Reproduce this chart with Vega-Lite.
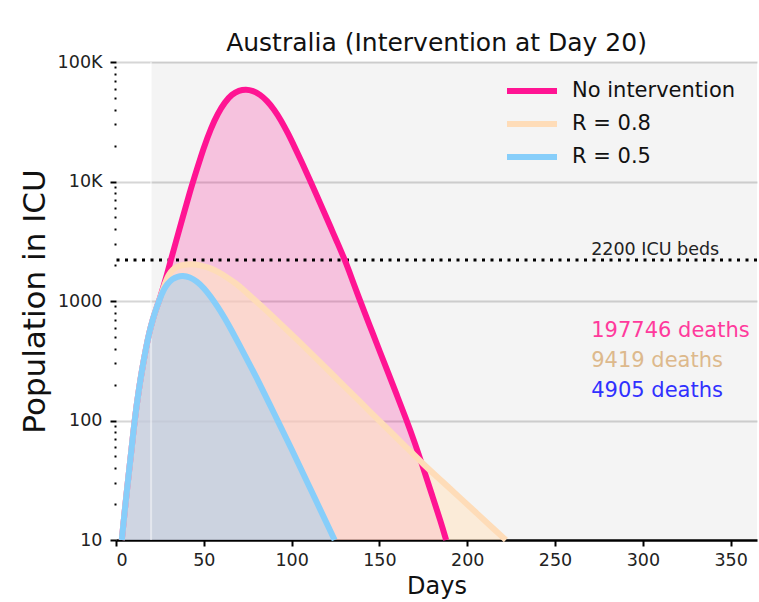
{
  "$schema": "https://vega.github.io/schema/vega-lite/v6.json",
  "width": 641,
  "height": 478,
  "autosize": {"type": "none"},
  "padding": {"left": 116, "top": 62, "right": 2, "bottom": 62},
  "background": "white",
  "config": {
    "font": "DejaVu Sans",
    "view": {"stroke": null},
    "axis": {"labelFont": "DejaVu Sans", "titleFont": "DejaVu Sans", "titleFontWeight": "normal"}
  },
  "title": {"text": "Australia (Intervention at Day 20)", "fontSize": 25, "fontWeight": "normal", "color": "#111", "offset": -3, "anchor": "middle"},
  "datasets": {
    "curves": [
      {"series": "No intervention", "day": 3.3, "icu": 10},
      {"series": "No intervention", "day": 5, "icu": 17.8},
      {"series": "No intervention", "day": 7, "icu": 33.1},
      {"series": "No intervention", "day": 9, "icu": 60.3},
      {"series": "No intervention", "day": 10.6, "icu": 100},
      {"series": "No intervention", "day": 13, "icu": 182},
      {"series": "No intervention", "day": 15, "icu": 275},
      {"series": "No intervention", "day": 17, "icu": 398},
      {"series": "No intervention", "day": 19, "icu": 550},
      {"series": "No intervention", "day": 21, "icu": 708},
      {"series": "No intervention", "day": 23, "icu": 871},
      {"series": "No intervention", "day": 25, "icu": 1047},
      {"series": "No intervention", "day": 27, "icu": 1318},
      {"series": "No intervention", "day": 29, "icu": 1660},
      {"series": "No intervention", "day": 31, "icu": 2138},
      {"series": "No intervention", "day": 34, "icu": 3090},
      {"series": "No intervention", "day": 38, "icu": 5012},
      {"series": "No intervention", "day": 42, "icu": 8128},
      {"series": "No intervention", "day": 46, "icu": 12589},
      {"series": "No intervention", "day": 50, "icu": 19275},
      {"series": "No intervention", "day": 54, "icu": 27861},
      {"series": "No intervention", "day": 58, "icu": 37154},
      {"series": "No intervention", "day": 62, "icu": 46238},
      {"series": "No intervention", "day": 66, "icu": 53703},
      {"series": "No intervention", "day": 70, "icu": 57810},
      {"series": "No intervention", "day": 74, "icu": 59156},
      {"series": "No intervention", "day": 78, "icu": 57544},
      {"series": "No intervention", "day": 82, "icu": 53456},
      {"series": "No intervention", "day": 86, "icu": 47424},
      {"series": "No intervention", "day": 90, "icu": 40179},
      {"series": "No intervention", "day": 94, "icu": 32509},
      {"series": "No intervention", "day": 98, "icu": 25235},
      {"series": "No intervention", "day": 102, "icu": 19055},
      {"series": "No intervention", "day": 106, "icu": 14289},
      {"series": "No intervention", "day": 110, "icu": 10593},
      {"series": "No intervention", "day": 114, "icu": 7816},
      {"series": "No intervention", "day": 118, "icu": 5754},
      {"series": "No intervention", "day": 122, "icu": 4217},
      {"series": "No intervention", "day": 126, "icu": 3090},
      {"series": "No intervention", "day": 130, "icu": 2265},
      {"series": "No intervention", "day": 134, "icu": 1585},
      {"series": "No intervention", "day": 138, "icu": 1096},
      {"series": "No intervention", "day": 142, "icu": 771},
      {"series": "No intervention", "day": 146, "icu": 546},
      {"series": "No intervention", "day": 150, "icu": 385},
      {"series": "No intervention", "day": 155, "icu": 250},
      {"series": "No intervention", "day": 160, "icu": 162},
      {"series": "No intervention", "day": 165, "icu": 105},
      {"series": "No intervention", "day": 170, "icu": 66.1},
      {"series": "No intervention", "day": 175, "icu": 39.8},
      {"series": "No intervention", "day": 180, "icu": 23.7},
      {"series": "No intervention", "day": 185, "icu": 14.1},
      {"series": "No intervention", "day": 188, "icu": 10},
      {"series": "R = 0.8", "day": 3.3, "icu": 10},
      {"series": "R = 0.8", "day": 5, "icu": 17.8},
      {"series": "R = 0.8", "day": 7, "icu": 33.1},
      {"series": "R = 0.8", "day": 9, "icu": 60.3},
      {"series": "R = 0.8", "day": 10.6, "icu": 100},
      {"series": "R = 0.8", "day": 13, "icu": 182},
      {"series": "R = 0.8", "day": 15, "icu": 275},
      {"series": "R = 0.8", "day": 17, "icu": 398},
      {"series": "R = 0.8", "day": 19, "icu": 550},
      {"series": "R = 0.8", "day": 21, "icu": 708},
      {"series": "R = 0.8", "day": 23, "icu": 871},
      {"series": "R = 0.8", "day": 25, "icu": 1047},
      {"series": "R = 0.8", "day": 27, "icu": 1288},
      {"series": "R = 0.8", "day": 29, "icu": 1549},
      {"series": "R = 0.8", "day": 31, "icu": 1758},
      {"series": "R = 0.8", "day": 34, "icu": 1928},
      {"series": "R = 0.8", "day": 38, "icu": 2009},
      {"series": "R = 0.8", "day": 43, "icu": 2042},
      {"series": "R = 0.8", "day": 48, "icu": 1995},
      {"series": "R = 0.8", "day": 53, "icu": 1905},
      {"series": "R = 0.8", "day": 58, "icu": 1758},
      {"series": "R = 0.8", "day": 63, "icu": 1585},
      {"series": "R = 0.8", "day": 68, "icu": 1413},
      {"series": "R = 0.8", "day": 73, "icu": 1230},
      {"series": "R = 0.8", "day": 78, "icu": 1047},
      {"series": "R = 0.8", "day": 85, "icu": 851},
      {"series": "R = 0.8", "day": 95, "icu": 617},
      {"series": "R = 0.8", "day": 105, "icu": 447},
      {"series": "R = 0.8", "day": 115, "icu": 320},
      {"series": "R = 0.8", "day": 125, "icu": 229},
      {"series": "R = 0.8", "day": 135, "icu": 164},
      {"series": "R = 0.8", "day": 145, "icu": 117},
      {"series": "R = 0.8", "day": 155, "icu": 84.1},
      {"series": "R = 0.8", "day": 165, "icu": 60.3},
      {"series": "R = 0.8", "day": 175, "icu": 43.1},
      {"series": "R = 0.8", "day": 185, "icu": 31.6},
      {"series": "R = 0.8", "day": 195, "icu": 23.2},
      {"series": "R = 0.8", "day": 205, "icu": 17},
      {"series": "R = 0.8", "day": 215, "icu": 12.4},
      {"series": "R = 0.8", "day": 222, "icu": 10},
      {"series": "R = 0.5", "day": 3.3, "icu": 10},
      {"series": "R = 0.5", "day": 5, "icu": 17.8},
      {"series": "R = 0.5", "day": 7, "icu": 33.1},
      {"series": "R = 0.5", "day": 9, "icu": 60.3},
      {"series": "R = 0.5", "day": 10.6, "icu": 100},
      {"series": "R = 0.5", "day": 13, "icu": 182},
      {"series": "R = 0.5", "day": 15, "icu": 275},
      {"series": "R = 0.5", "day": 17, "icu": 398},
      {"series": "R = 0.5", "day": 19, "icu": 550},
      {"series": "R = 0.5", "day": 21, "icu": 708},
      {"series": "R = 0.5", "day": 23, "icu": 871},
      {"series": "R = 0.5", "day": 25, "icu": 1047},
      {"series": "R = 0.5", "day": 27, "icu": 1230},
      {"series": "R = 0.5", "day": 29, "icu": 1380},
      {"series": "R = 0.5", "day": 32, "icu": 1531},
      {"series": "R = 0.5", "day": 35, "icu": 1603},
      {"series": "R = 0.5", "day": 38, "icu": 1629},
      {"series": "R = 0.5", "day": 42, "icu": 1585},
      {"series": "R = 0.5", "day": 46, "icu": 1462},
      {"series": "R = 0.5", "day": 50, "icu": 1288},
      {"series": "R = 0.5", "day": 54, "icu": 1084},
      {"series": "R = 0.5", "day": 58, "icu": 891},
      {"series": "R = 0.5", "day": 62, "icu": 716},
      {"series": "R = 0.5", "day": 66, "icu": 562},
      {"series": "R = 0.5", "day": 70, "icu": 437},
      {"series": "R = 0.5", "day": 75, "icu": 316},
      {"series": "R = 0.5", "day": 80, "icu": 229},
      {"series": "R = 0.5", "day": 85, "icu": 162},
      {"series": "R = 0.5", "day": 90, "icu": 115},
      {"series": "R = 0.5", "day": 95, "icu": 81.3},
      {"series": "R = 0.5", "day": 100, "icu": 57.5},
      {"series": "R = 0.5", "day": 105, "icu": 40.3},
      {"series": "R = 0.5", "day": 110, "icu": 28.2},
      {"series": "R = 0.5", "day": 115, "icu": 19.7},
      {"series": "R = 0.5", "day": 120, "icu": 13.8},
      {"series": "R = 0.5", "day": 124.5, "icu": 10}
    ],
    "notes": [
      {"series": "No intervention", "day": 270.6, "icu": 500, "label": "197746 deaths"},
      {"series": "R = 0.8", "day": 270.6, "icu": 281, "label": "9419 deaths"},
      {"series": "R = 0.5", "day": 270.6, "icu": 157, "label": "4905 deaths"}
    ],
    "period": [{"start": 20, "end": 365}],
    "beds": [{"beds": 2200, "label": "2200 ICU beds", "day": 270.6}],
    "intervention": [{"day": 20}]
  },
  "layer": [
    {
      "data": {"name": "period"},
      "mark": {"type": "rect", "fill": "#000", "opacity": 0.043},
      "encoding": {
        "x": {"field": "start", "type": "quantitative"},
        "x2": {"field": "end"}
      }
    },
    {
      "data": {"name": "curves"},
      "transform": [{"filter": "datum.series == 'No intervention'"}],
      "mark": {"type": "area", "interpolate": "basis", "color": "#ff1493", "opacity": 0.22},
      "encoding": {
        "x": {"field": "day", "type": "quantitative", "scale": {"domain": [0, 365], "nice": false, "zero": false},
          "axis": {"title": "Days", "titleFontSize": 24, "titleColor": "#111", "titlePadding": 6, "values": [0, 50, 100, 150, 200, 250, 300, 350],
            "labelFontSize": 17.5, "labelColor": "#222", "labelPadding": 5, "tickSize": 6, "tickWidth": 2, "tickColor": "#000",
            "domainColor": "#000", "domainWidth": 2.5, "grid": false}},
        "y": {"field": "icu", "type": "quantitative", "scale": {"type": "log", "domain": [10, 100000], "nice": false},
          "axis": {"title": "Population in ICU", "titleFontSize": 31, "titleColor": "#111", "titlePadding": 6,
            "values": [10, 20, 30, 40, 50, 60, 70, 80, 90, 100, 200, 300, 400, 500, 600, 700, 800, 900, 1000, 2000, 3000, 4000, 5000, 6000, 7000, 8000, 9000, 10000, 20000, 30000, 40000, 50000, 60000, 70000, 80000, 90000, 100000],
            "labelExpr": "datum.value == 100000 ? '100K' : datum.value == 10000 ? '10K' : (datum.value == 1000 || datum.value == 100 || datum.value == 10) ? format(datum.value, 'd') : ''",
            "labelFontSize": 17.5, "labelColor": "#222", "labelPadding": 8,
            "domain": false,
            "tickColor": "#000",
            "tickSize": {"condition": {"test": "indexof([10,100,1000,10000,100000], datum.value) >= 0", "value": 6}, "value": 2},
            "tickWidth": 2,
            "grid": true, "gridColor": "#d6d6d6", "gridWidth": 2,
            "gridOpacity": {"condition": {"test": "indexof([100,1000,10000,100000], datum.value) >= 0", "value": 1}, "value": 0}}},
        "y2": {"datum": 10}
      }
    },
    {
      "data": {"name": "curves"},
      "transform": [{"filter": "datum.series == 'R = 0.8'"}],
      "mark": {"type": "area", "interpolate": "basis", "color": "#ffe4c4", "opacity": 0.6},
      "encoding": {
        "x": {"field": "day", "type": "quantitative"},
        "y": {"field": "icu", "type": "quantitative"},
        "y2": {"datum": 10}
      }
    },
    {
      "data": {"name": "curves"},
      "transform": [{"filter": "datum.series == 'R = 0.5'"}],
      "mark": {"type": "area", "interpolate": "basis", "color": "#87cefa", "opacity": 0.4},
      "encoding": {
        "x": {"field": "day", "type": "quantitative"},
        "y": {"field": "icu", "type": "quantitative"},
        "y2": {"datum": 10}
      }
    },
    {
      "data": {"name": "intervention"},
      "mark": {"type": "rule", "color": "#ffffff", "opacity": 0.45, "strokeWidth": 2},
      "encoding": {"x": {"field": "day", "type": "quantitative"}}
    },
    {
      "data": {"name": "beds"},
      "mark": {"type": "rule", "color": "#000", "strokeWidth": 3, "strokeDash": [3, 5.5]},
      "encoding": {"y": {"field": "beds", "type": "quantitative"}}
    },
    {
      "data": {"name": "curves"},
      "transform": [{"filter": "datum.series == 'No intervention'"}],
      "mark": {"type": "line", "interpolate": "basis", "strokeWidth": 6},
      "encoding": {
        "x": {"field": "day", "type": "quantitative"},
        "y": {"field": "icu", "type": "quantitative"},
        "color": {"field": "series", "type": "nominal",
          "scale": {"domain": ["No intervention", "R = 0.8", "R = 0.5"], "range": ["#ff1493", "#fedcb8", "#87cefa"]},
          "legend": {"orient": "none", "legendX": 403, "legendY": 16, "title": null, "labelFontSize": 21, "labelColor": "#111", "labelLimit": 0,
            "symbolType": "M-2.5,0L2.5,0", "symbolStrokeWidth": 6, "symbolSize": 400, "labelOffset": 27, "rowPadding": 8, "padding": 0}}
      }
    },
    {
      "data": {"name": "curves"},
      "transform": [{"filter": "datum.series == 'R = 0.8'"}],
      "mark": {"type": "line", "interpolate": "basis", "strokeWidth": 6},
      "encoding": {
        "x": {"field": "day", "type": "quantitative"},
        "y": {"field": "icu", "type": "quantitative"},
        "color": {"field": "series", "type": "nominal"}
      }
    },
    {
      "data": {"name": "curves"},
      "transform": [{"filter": "datum.series == 'R = 0.5'"}],
      "mark": {"type": "line", "interpolate": "basis", "strokeWidth": 6},
      "encoding": {
        "x": {"field": "day", "type": "quantitative"},
        "y": {"field": "icu", "type": "quantitative"},
        "color": {"field": "series", "type": "nominal"}
      }
    },
    {
      "data": {"name": "beds"},
      "mark": {"type": "text", "align": "left", "baseline": "alphabetic", "dy": -5, "fontSize": 17.5, "color": "#222"},
      "encoding": {
        "x": {"field": "day", "type": "quantitative"},
        "y": {"field": "beds", "type": "quantitative"},
        "text": {"field": "label"}
      }
    },
    {
      "data": {"name": "notes"},
      "mark": {"type": "text", "align": "left", "baseline": "alphabetic", "fontSize": 21},
      "encoding": {
        "x": {"field": "day", "type": "quantitative"},
        "y": {"field": "icu", "type": "quantitative"},
        "text": {"field": "label"},
        "fill": {"condition": [
          {"test": "datum.series == 'No intervention'", "value": "#ff3a9c"},
          {"test": "datum.series == 'R = 0.8'", "value": "#ddb98c"}],
          "value": "#3030ff"}
      }
    }
  ]
}
